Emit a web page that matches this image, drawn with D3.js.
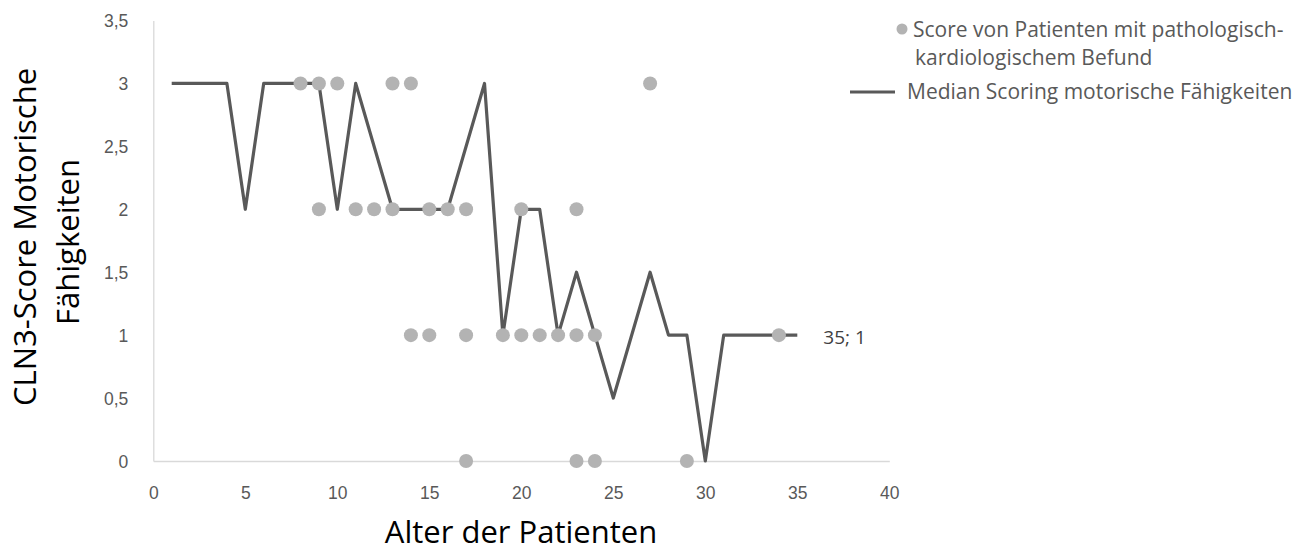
<!DOCTYPE html>
<html>
<head>
<meta charset="utf-8">
<script src="https://cdn.jsdelivr.net/npm/d3@7/dist/d3.min.js"></script>
<style>
  html, body { margin: 0; padding: 0; background: #fff; }
  svg { display: block; font-family: "Open Sans", "Noto Sans", sans-serif; }
</style>
</head>
<body>
<svg id="chart" width="1311" height="553"></svg>
<script>
// Median score of motor abilities per patient age
const medianAge   = [1, 4, 5, 6, 9, 10, 11, 13, 16, 18, 19, 20, 21, 22, 23, 24, 25, 27, 28, 29, 30, 31, 35];
const medianScore = [3, 3, 2, 3, 3, 2,  3,  2,  2,  3,  1,  2,  2,  1,  1.5, 1, 0.5, 1.5, 1, 1, 0, 1, 1];

// Individual scores of patients with pathological cardiological findings
const scatterAge   = [8, 9, 10, 13, 14, 27,
                      9, 11, 12, 13, 15, 16, 17, 20, 23,
                      14, 15, 17, 19, 20, 21, 22, 23, 24, 34,
                      17, 23, 24, 29];
const scatterScore = [3, 3, 3, 3, 3, 3,
                      2, 2, 2, 2, 2, 2, 2, 2, 2,
                      1, 1, 1, 1, 1, 1, 1, 1, 1, 1,
                      0, 0, 0, 0];

const xTicks = [0, 5, 10, 15, 20, 25, 30, 35, 40];
const yTicks = [0, 0.5, 1, 1.5, 2, 2.5, 3, 3.5];

const seriesNames = ["Score von Patienten mit pathologisch-", "kardiologischem Befund",
                     "Median Scoring motorische Fähigkeiten"];
const xTitle = "Alter der Patienten";
const yTitleLines = ["CLN3-Score Motorische", "Fähigkeiten"];

const svg = d3.select("#chart");
const fmt = d => String(d).replace(".", ",");

const x = d3.scaleLinear().domain([0, 40]).range([153.3, 889.3]);
const y = d3.scaleLinear().domain([0, 3.5]).range([461, 20.5]);

// x axis
const gx = svg.append("g")
  .attr("transform", `translate(0,${y(0)})`)
  .call(d3.axisBottom(x).tickValues(xTicks).tickSize(0).tickFormat(fmt));
gx.select(".domain").attr("stroke", "#d9d9d9").attr("stroke-width", 1.3);
gx.selectAll("text").attr("y", 32).attr("dy", "0.35em")
  .attr("fill", "#595959").style("font-size", "17.5px");

// y axis
const gy = svg.append("g")
  .attr("transform", `translate(${x(0)},0)`)
  .call(d3.axisLeft(y).tickValues(yTicks).tickSize(0).tickFormat(fmt));
gy.select(".domain").attr("stroke", "#d9d9d9").attr("stroke-width", 1.3);
gy.selectAll("text").attr("x", -25).attr("dy", "0.35em")
  .attr("fill", "#595959").style("font-size", "17.5px");

// axis titles
svg.append("text")
  .attr("x", 521).attr("y", 543)
  .attr("text-anchor", "middle")
  .style("font-size", "31px").attr("fill", "#000")
  .text(xTitle);

const yt = svg.append("text")
  .attr("transform", "translate(25,237) rotate(-90)")
  .attr("text-anchor", "middle")
  .style("font-size", "31px").attr("fill", "#000");
yt.append("tspan").attr("x", 0).attr("dy", "0.35em").text(yTitleLines[0]);
yt.append("tspan").attr("x", -5).attr("y", 43).attr("dy", "0.35em").text(yTitleLines[1]);

// median line
const medianData = medianAge.map((a, i) => ({ age: a, score: medianScore[i] }));
const line = d3.line().x(d => x(d.age)).y(d => y(d.score));
svg.append("path")
  .datum(medianData)
  .attr("d", line)
  .attr("fill", "none")
  .attr("stroke", "#595959")
  .attr("stroke-width", 3.2)
  .attr("stroke-linejoin", "round");

// scatter points
const scatterData = scatterAge.map((a, i) => ({ age: a, score: scatterScore[i] }));
svg.append("g").selectAll("circle")
  .data(scatterData)
  .join("circle")
  .attr("cx", d => x(d.age))
  .attr("cy", d => y(d.score))
  .attr("r", 7)
  .attr("fill", "#b3b3b3");

// data label on last median point
const last = medianData[medianData.length - 1];
svg.append("text")
  .attr("x", x(last.age) + 26).attr("y", y(last.score) + 2).attr("dy", "0.35em")
  .attr("fill", "#404040").style("font-size", "19px")
  .text(`${last.age}; ${last.score}`);

// legend
const lg = svg.append("g");
lg.append("circle").attr("cx", 902).attr("cy", 29).attr("r", 5.5).attr("fill", "#b3b3b3");
lg.append("text").attr("x", 913).attr("y", 30).attr("dy", "0.35em")
  .attr("fill", "#595959").style("font-size", "21px").text(seriesNames[0]);
lg.append("text").attr("x", 915).attr("y", 58).attr("dy", "0.35em")
  .attr("fill", "#595959").style("font-size", "21px").text(seriesNames[1]);
lg.append("line").attr("x1", 850).attr("x2", 895).attr("y1", 92).attr("y2", 92)
  .attr("stroke", "#595959").attr("stroke-width", 3.2);
lg.append("text").attr("x", 907).attr("y", 92).attr("dy", "0.35em")
  .attr("fill", "#595959").style("font-size", "21px").text(seriesNames[2]);
</script>
</body>
</html>
